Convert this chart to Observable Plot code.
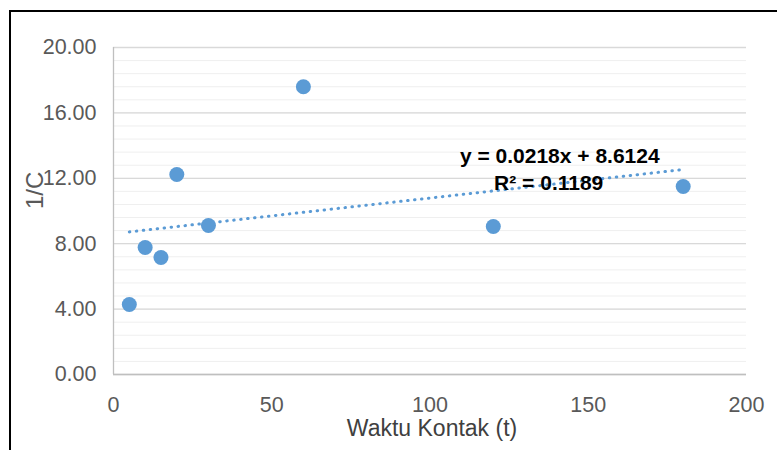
<!DOCTYPE html>
<html>
<head>
<meta charset="utf-8">
<script src="https://cdn.jsdelivr.net/npm/d3@7"></script>
<script src="https://cdn.jsdelivr.net/npm/@observablehq/plot@0.6"></script>
<style>
  html, body { margin: 0; padding: 0; background: #fff; overflow: hidden; }
  #wrap { position: relative; width: 777px; height: 450px; overflow: hidden; }
  #frame { position: absolute; left: 9px; top: 10px; width: 800px; height: 500px; border: 2px solid #000; box-sizing: border-box; pointer-events: none; }
  svg { font-family: "Liberation Sans", Arial, sans-serif; }
</style>
</head>
<body>
<div id="wrap"><div id="frame"></div></div>
<script>
// Data
const waktu = [5, 10, 15, 20, 30, 60, 120, 180];
const invC  = [4.28, 7.77, 7.16, 12.23, 9.11, 17.6, 9.05, 11.5];
const slope = 0.0218;
const intercept = 8.6124;
const eqText = "y = 0.0218x + 8.6124";
const r2Text = "R² = 0.1189";
const xTicks = [0, 50, 100, 150, 200];
const yTicks = [0, 4, 8, 12, 16, 20];
const yMinor = d3.range(0, 20.001, 0.8);

const points = waktu.map((t, i) => ({t, v: invC[i]}));
const trendX = [5, 180];
const trend = trendX.map(t => ({t, v: slope * t + intercept}));

const blue = "#5b9bd5";

const chart = Plot.plot({
  width: 777,
  height: 450,
  marginLeft: 113,
  marginRight: 31,
  marginTop: 47,
  marginBottom: 76,
  x: {domain: [0, 200]},
  y: {domain: [0, 20]},
  marks: [
    Plot.ruleY(yMinor, {stroke: "#efefef", strokeWidth: 1}),
    Plot.ruleY(yTicks, {stroke: "#d9d9d9", strokeWidth: 1.3}),
    Plot.ruleX([0], {stroke: "#bfbfbf", strokeWidth: 1.3}),
    Plot.ruleY([0], {stroke: "#bfbfbf", strokeWidth: 1.3}),
    Plot.axisY({ticks: yTicks, tickFormat: d => d.toFixed(2), tickSize: 0, tickPadding: 17,
      fontSize: 21.5, color: "#595959", label: null}),
    Plot.axisX({ticks: xTicks, tickSize: 0, tickPadding: 22, fontSize: 21.5, color: "#595959", label: null}),
    Plot.text(["1/C"], {frameAnchor: "left", dx: -78, dy: -2, rotate: -90, fontSize: 24, fill: "#595959"}),
    Plot.text(["Waktu Kontak (t)"], {frameAnchor: "bottom", dy: 61, dx: 2, fontSize: 23, fill: "#404040"}),
    Plot.line(trend, {x: "t", y: "v", stroke: blue, strokeWidth: 3, strokeDasharray: "0.5 6.5", strokeLinecap: "round"}),
    Plot.dot(points, {x: "t", y: "v", r: 7.5, fill: blue}),
    Plot.text([eqText], {x: 141, y: 13.33, fontSize: 21, fontWeight: "bold", fill: "#000"}),
    Plot.text([r2Text], {x: 137.5, y: 11.68, fontSize: 21, fontWeight: "bold", fill: "#000"})
  ]
});
document.getElementById("wrap").prepend(chart);
</script>
</body>
</html>
